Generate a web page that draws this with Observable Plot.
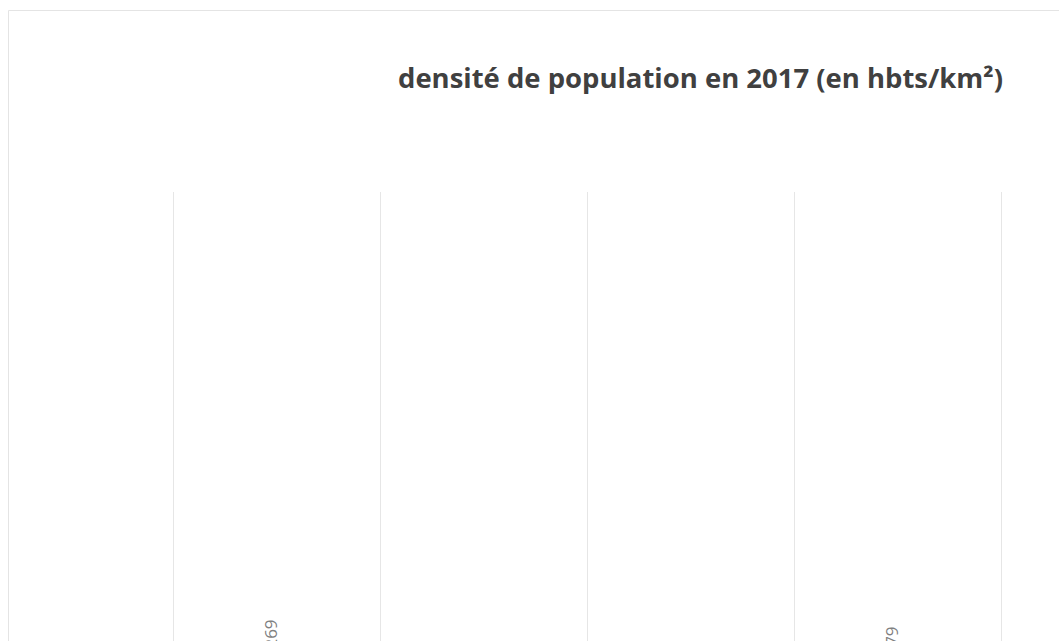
<!DOCTYPE html>
<html>
<head>
<meta charset="utf-8">
<script src="https://cdn.jsdelivr.net/npm/d3@7"></script>
<script src="https://cdn.jsdelivr.net/npm/@observablehq/plot@0.6"></script>
<style>
  html, body { margin: 0; padding: 0; background: #fff; overflow: hidden; }
  #chart { position: relative; width: 1059px; height: 641px; overflow: hidden; }
  #chart svg { overflow: hidden; }
</style>
</head>
<body>
<div id="chart"></div>
<script>
// Data read from the (cropped) reference
const categories = ["Commune", "Intercommunalité", "Département", "Région", "Métropole"];
const densities = [269, 41, 28, 179, 5800];
const chartTitle = "densité de population en 2017 (en hbts/km²)";

const rows = categories.map((c, i) => ({ category: c, index: i, value: densities[i] }));
const fmt = v => v.toLocaleString("fr-FR");

const plot = Plot.plot({
  width: 1059,
  height: 641,
  marginTop: 0, marginRight: 0, marginBottom: 0, marginLeft: 0,
  style: { fontFamily: "'Open Sans', sans-serif", background: "white", overflow: "hidden" },
  x: { type: "linear", domain: [0, categories.length], range: [173, 1208], axis: null },
  y: { type: "linear", domain: [0, 6200], range: [674, 192], axis: null },
  marks: [
    Plot.ruleX(d3.range(categories.length + 1), { y1: 0, y2: 6200, stroke: "#e6e6e6", strokeWidth: 1 }),
    Plot.rectY(rows, { x1: d => d.index, x2: d => d.index + 1, y: "value", insetLeft: 64, insetRight: 64, fill: "#4472c4" }),
    Plot.text(rows, {
      x: d => d.index + 0.5, y: "value", text: d => fmt(d.value),
      rotate: -90, textAnchor: "start", dx: -5, dy: -5, fill: "#808080", fontSize: 17
    })
  ]
});

document.getElementById("chart").appendChild(plot);

const svg = d3.select(plot);
// chart area border (light)
svg.append("path")
  .attr("d", "M8.5,641 V10.5 H1059")
  .attr("fill", "none").attr("stroke", "#e4e4e4").attr("stroke-width", 1);
// title
svg.append("text")
  .attr("x", 700.5).attr("y", 88)
  .attr("text-anchor", "middle")
  .attr("textLength", 605).attr("lengthAdjust", "spacingAndGlyphs")
  .attr("font-family", "'Open Sans', sans-serif")
  .attr("font-weight", "bold").attr("font-size", 26)
  .attr("fill", "#404040")
  .text(chartTitle);
</script>
</body>
</html>
